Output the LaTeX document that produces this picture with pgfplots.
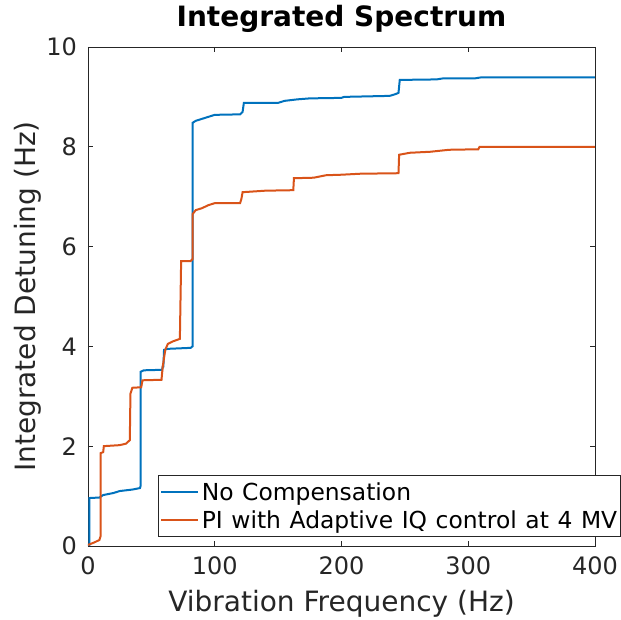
\documentclass[border=0pt]{standalone}
\usepackage{pgfplots}
\pgfplotsset{compat=1.18}
\usepackage{fontspec}
\setmainfont{DejaVu Sans}
\definecolor{mblue}{rgb}{0,0.447,0.741}
\definecolor{morange}{rgb}{0.85,0.325,0.098}
\definecolor{axgray}{rgb}{0.15,0.15,0.15}
\newcommand{\legfont}{\fontsize{23.4bp}{27bp}\selectfont\spaceskip=8.6bp\relax}
\begin{document}
\begin{tikzpicture}
\begin{axis}[name=ax, scale only axis, width=507bp, height=499bp,
  xmin=0, xmax=400, ymin=0, ymax=10,
  xtick={0,100,200,300,400}, ytick={0,2,4,6,8,10},
  axis line style={axgray, line width=0.6bp},
  tick style={axgray, line width=0.6bp},
  major tick length=5bp, tick align=inside, xtick pos=both, ytick pos=both,
  /pgf/number format/assume math mode=true,
  ticklabel style={font=\fontsize{24bp}{28bp}\selectfont, text=axgray, inner sep=0pt},
  xticklabel style={anchor=north, yshift=-11bp},
  yticklabel style={anchor=east, xshift=-11bp},
  title={\textbf{Integrated Spectrum}},
  title style={at={(0.5,1.0281)}, anchor=base, font=\fontsize{28bp}{32bp}\selectfont, inner sep=0pt},
  xlabel={Vibration Frequency (Hz)},
  xlabel style={at={(0.5,-0.1323)}, anchor=base, font=\fontsize{28bp}{32bp}\selectfont, text=axgray, inner sep=0pt},
  ylabel={Integrated Detuning (Hz)},
  ylabel style={at={(-0.1026,0.5)}, anchor=base, rotate=0, font=\fontsize{28bp}{32bp}\selectfont, text=axgray, inner sep=0pt},
  legend style={at={(0.1381,0)}, anchor=south west, yshift=9bp, draw=axgray, line width=0.6bp, fill=white,
    font=\legfont,
    inner xsep=2bp, inner ysep=2.45bp, row sep=0bp, column sep=1bp,
    nodes={inner xsep=1.5bp, inner ysep=2.25bp, text height=20bp, text depth=3.5bp}, cells={anchor=west}},
  legend image code/.code={\draw[#1] (0bp,0bp) -- (37bp,0bp);},
]
\addplot[mblue, line width=2bp] coordinates {
(0,0) (1,0) (1,0.96) (9,0.97) (12,1.02) (20,1.06) (25,1.10) (35,1.13) (41,1.16)
(41.5,1.2) (41.5,3.49) (44,3.52) (58.5,3.53) (59,3.6) (59.5,3.6) (60,3.93) (63,3.95)
(81,3.97) (82.5,4.0) (82.5,8.48) (85,8.52) (90,8.56) (95,8.6) (100,8.64) (120,8.65)
(122,8.7) (123,8.88) (150,8.88) (155,8.92) (165,8.95) (175,8.97) (200,8.98) (202,9.0)
(238,9.02) (242,9.05) (245,9.08) (246,9.34) (275,9.35) (280,9.37) (305,9.37) (310,9.39) (400,9.39)
};
\addlegendentry{No Compensation}
\addplot[morange, line width=2bp] coordinates {
(0,0.02) (5,0.07) (9,0.12) (10,0.2) (10,1.86) (12,1.88) (12.5,2.0) (25,2.02) (30,2.05)
(33,2.12) (33.5,3.05) (35,3.17) (42,3.18) (43,3.32) (58,3.33) (59,3.6) (61,3.93)
(63,4.05) (67,4.1) (72.5,4.15) (73.5,5.71) (81,5.71) (82.5,5.75) (82.5,6.65) (85,6.73)
(90,6.77) (95,6.83) (100,6.87) (120,6.87) (121,6.95) (122,7.09) (140,7.12) (162,7.13)
(162.5,7.37) (178,7.38) (188,7.43) (200,7.44) (215,7.46) (245,7.47) (245.5,7.84)
(254,7.88) (270,7.9) (285,7.94) (308,7.95) (309,8.0) (400,8.0)
};
\addlegendentry{PI with Adaptive IQ control at 4 MV}
\end{axis}
\path (ax.south west) +(-88bp,-74bp) (ax.north east) +(26bp,47bp);
\end{tikzpicture}
\end{document}
